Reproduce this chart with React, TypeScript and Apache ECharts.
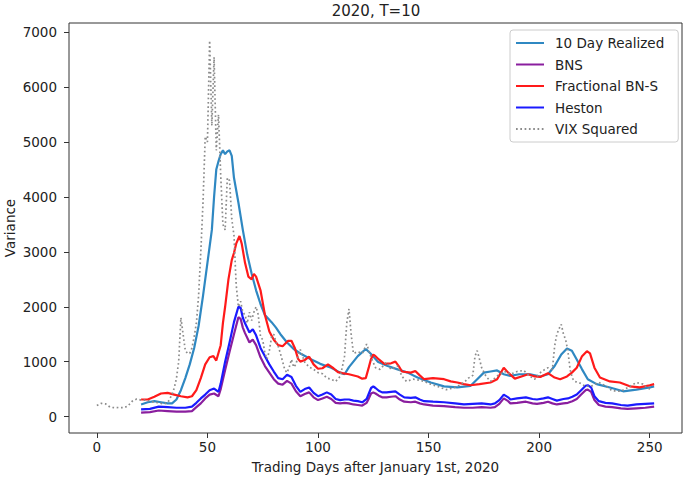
import React, { useEffect, useRef } from "react";
import * as echarts from "echarts";

const xTicks = [0, 50, 100, 150, 200, 250];
const yTicks = [0, 1000, 2000, 3000, 4000, 5000, 6000, 7000];

const realizedDays = [20, 23, 26, 29, 32, 34, 36, 38, 40, 42, 44, 46, 48, 50, 52, 53, 54, 55, 56, 57, 58, 59, 60, 61, 62, 64, 66, 68, 70, 72, 74, 76, 79, 81, 83, 86, 89, 92, 97, 101, 106, 110, 112, 114, 118, 121.6, 124, 127, 131.5, 136, 140.5, 145, 151, 157, 163, 169, 172, 175, 178, 181, 184, 187, 191, 196, 200.5, 204, 207, 210, 212.6, 214.8, 217, 219.4, 222, 226, 232, 238, 244, 250, 252];
const realizedVals = [220, 260, 280, 260, 240, 240, 310, 480, 700, 950, 1250, 1650, 2200, 2800, 3400, 4000, 4500, 4650, 4780, 4850, 4780, 4830, 4850, 4750, 4350, 3900, 3400, 2950, 2600, 2300, 2050, 1850, 1720, 1620, 1500, 1350, 1230, 1150, 1040, 960, 890, 800, 770, 900, 1100, 1230, 1140, 1000, 920, 860, 800, 710, 620, 550, 530, 560, 680, 800, 820, 840, 770, 740, 770, 770, 730, 770, 920, 1130, 1240, 1200, 1040, 860, 680, 590, 530, 460, 490, 530, 550];

const bnsDays = [20, 24, 28, 32, 36, 40, 43, 45, 47, 49, 51, 53, 55, 56, 58, 60, 62, 64, 65, 66, 67, 69, 70.5, 72, 74, 76, 78, 80, 82, 84, 86, 88, 90, 92, 94, 96, 98, 100, 102, 104, 106, 108, 110, 112, 114, 116, 118, 120, 122, 123, 124, 125, 126, 127.5, 129, 131, 133, 135, 137, 139, 142, 144, 146, 148, 152, 157, 162, 166, 170, 174, 178, 180, 182, 184, 186, 187, 190, 194, 197, 199, 202, 204, 206, 208, 211, 213, 215, 217, 219, 221, 222, 223.5, 225, 227, 230, 233, 237, 240, 244, 248, 252];
const bnsVals = [70, 80, 110, 100, 90, 90, 100, 170, 240, 330, 400, 420, 370, 500, 850, 1180, 1500, 1810, 1780, 1620, 1520, 1350, 1400, 1300, 1080, 920, 800, 680, 600, 580, 650, 600, 460, 370, 410, 440, 350, 300, 330, 360, 320, 250, 240, 250, 240, 220, 210, 200, 250, 330, 420, 440, 420, 380, 350, 350, 360, 370, 310, 270, 260, 270, 240, 220, 200, 190, 170, 160, 160, 170, 160, 170, 230, 330, 280, 240, 250, 270, 240, 230, 250, 270, 240, 220, 240, 250, 280, 320, 400, 480, 490, 450, 300, 210, 180, 170, 150, 140, 150, 160, 180];

const fracDays = [20, 23, 26, 29, 32, 35, 38, 41, 43, 45, 47, 49, 51, 52.7, 54, 56, 57, 58, 59.5, 61, 62, 63, 64.5, 65.5, 67, 68.5, 70, 71, 72, 74, 76, 78, 80, 82, 84, 86.5, 88, 89.5, 91, 92, 94, 96, 98, 100, 102, 104.5, 107, 109, 111, 114, 118, 120, 121.6, 123, 124, 125, 126, 127.5, 130, 133, 135, 136.5, 138, 142, 144, 146, 148, 152, 157, 160, 163, 166, 169, 173, 178, 181, 183, 184, 186, 189, 192, 195, 198, 200.5, 204, 207, 209.5, 212.6, 214.8, 217, 219.4, 221.6, 223, 225, 227.5, 232, 236.5, 241, 245.5, 250, 252];
const fracVals = [310, 310, 360, 420, 430, 400, 370, 350, 370, 480, 700, 950, 1080, 1100, 1020, 1300, 1700, 2000, 2500, 2850, 2980, 3150, 3290, 3150, 2800, 2550, 2500, 2600, 2550, 2300, 1850, 1550, 1400, 1300, 1280, 1380, 1380, 1250, 1050, 1000, 1030, 1090, 950, 870, 880, 950, 880, 810, 790, 770, 730, 690, 700, 900, 1050, 1130, 1100, 1040, 960, 970, 1000, 920, 820, 800, 830, 750, 680, 700, 680, 640, 620, 590, 570, 590, 620, 680, 820, 890, 800, 690, 730, 770, 730, 720, 790, 710, 680, 730, 800, 890, 1100, 1190, 1150, 890, 710, 640, 620, 550, 530, 570, 590];

const hestonDays = [20, 24, 28, 32, 36, 40, 43, 45, 47, 49, 51, 53, 55, 56, 58, 60, 62, 64, 65, 66, 67, 69, 70.5, 72, 74, 76, 78, 80, 82, 84, 86, 88, 90, 92, 94, 96, 98, 100, 102, 104, 106, 108, 110, 112, 114, 116, 118, 120, 122, 123, 124, 125, 126, 127.5, 129, 131, 133, 135, 137, 139, 142, 144, 146, 148, 152, 157, 162, 166, 170, 174, 178, 180, 182, 184, 186, 187, 190, 194, 197, 199, 202, 204, 206, 208, 211, 213, 215, 217, 219, 221, 222, 223.5, 225, 227, 230, 233, 237, 240, 244, 248, 252];
const hestonVals = [130, 140, 180, 170, 160, 160, 180, 250, 330, 400, 480, 510, 450, 600, 1000, 1350, 1720, 2000, 1980, 1800, 1700, 1530, 1590, 1480, 1250, 1100, 950, 820, 700, 680, 760, 720, 560, 450, 500, 530, 430, 370, 400, 440, 400, 320, 300, 310, 310, 290, 280, 260, 320, 420, 520, 550, 520, 470, 440, 440, 450, 460, 400, 350, 340, 350, 310, 280, 270, 260, 240, 220, 230, 240, 220, 240, 300, 400, 350, 310, 330, 350, 320, 310, 330, 350, 320, 290, 320, 330, 360, 400, 480, 560, 570, 530, 370, 280, 250, 240, 210, 200, 220, 230, 240];

const vixDays = [0, 2, 4, 6, 8, 10, 12, 14, 16, 18, 20, 22, 24, 26, 28, 30, 32, 34, 35, 36, 37, 38, 39, 40, 41, 42, 43, 44, 45, 46, 47, 48, 49, 50, 51, 52, 53, 54, 55, 56, 57, 58, 59, 60, 61, 62, 63, 64, 65, 66, 67, 68, 69, 70, 71, 72, 73, 74, 75, 76, 77, 78, 79, 80, 81, 82, 83, 84, 85, 86, 87, 88, 89, 90, 91, 92, 93, 94, 96, 98, 100, 102, 104, 106, 108, 110, 111, 112, 113, 114, 115, 116, 118, 120, 122, 124, 126, 128, 131, 133, 136, 138, 140, 143, 146, 148, 151, 154, 158, 161, 163, 166, 168, 170, 171, 172, 173, 174, 176, 178, 180, 182, 185, 187, 190, 193, 196, 198, 201, 204, 206, 207, 208, 209, 210, 211, 212, 213, 214, 215, 216, 218, 221, 224, 227, 230, 233, 237, 241, 244, 247, 249, 251];
const vixVals = [200, 240, 230, 170, 160, 165, 160, 190, 280, 320, 300, 300, 280, 260, 250, 230, 250, 400, 520, 700, 1000, 1800, 1500, 1200, 1150, 1150, 1250, 1450, 1700, 2200, 3000, 3900, 5100, 5000, 6850, 5300, 6550, 4850, 5500, 4400, 3500, 3400, 4350, 4300, 3600, 3300, 2400, 2000, 2100, 1900, 1850, 1700, 1900, 1750, 1900, 2000, 1850, 1450, 1400, 1150, 1050, 1200, 1450, 1500, 1350, 1280, 1150, 1000, 850, 800, 900, 1040, 900, 950, 1100, 1220, 1100, 990, 900, 860, 800, 780, 700, 680, 640, 730, 900, 1100, 1700, 1960, 1500, 1150, 1180, 1150, 1320, 1080, 890, 860, 990, 860, 920, 730, 640, 680, 660, 640, 590, 550, 490, 520, 550, 620, 700, 750, 1100, 1200, 1050, 890, 730, 640, 700, 770, 820, 770, 820, 840, 730, 680, 820, 890, 860, 1280, 1500, 1600, 1680, 1500, 1400, 1190, 860, 700, 640, 620, 550, 560, 620, 560, 470, 460, 550, 620, 590, 520, 490];

const seriesNames = ["10 Day Realized", "BNS", "Fractional BN-S", "Heston", "VIX Squared"];
const seriesColors = ["#2f88c2", "#8a1e9e", "#ff1a1a", "#1a1aff", "#8c8c8c"];

const zip = (xs: number[], ys: number[]) => xs.map((x, i) => [x, ys[i]]);

const FONT = "DejaVu Sans";
const TXT = "#222";
const FS = 13.5;

export default function App() {
  const ref = useRef<HTMLDivElement>(null);
  useEffect(() => {
    if (!ref.current) return;
    const chart = echarts.init(ref.current, null, { renderer: "svg" });
    const datasets = [
      zip(realizedDays, realizedVals),
      zip(bnsDays, bnsVals),
      zip(fracDays, fracVals),
      zip(hestonDays, hestonVals),
      zip(vixDays, vixVals),
    ];
    chart.setOption({
      animation: false,
      backgroundColor: "#ffffff",
      textStyle: { fontFamily: FONT },
      graphic: [
        {
          type: "text",
          x: 376,
          y: 11,
          style: {
            text: "2020, T=10",
            fontFamily: FONT,
            fontSize: 15,
            fill: TXT,
            textAlign: "center",
            textVerticalAlign: "middle",
          },
        },
      ],
      grid: {
        left: 69,
        right: 3,
        top: 23,
        bottom: 44,
        show: true,
        borderColor: "#333",
        borderWidth: 1,
        backgroundColor: "transparent",
        containLabel: false,
        outerBoundsMode: "none",
      },
      legend: {
        orient: "vertical",
        left: 510,
        top: 30,
        padding: [6, 14, 6, 5],
        itemWidth: 28,
        itemHeight: 14,
        itemGap: 7.5,
        backgroundColor: "rgba(255,255,255,0.85)",
        borderColor: "#cccccc",
        borderWidth: 1,
        borderRadius: 3,
        itemStyle: { opacity: 0 },
        textStyle: { fontFamily: FONT, fontSize: FS, color: TXT, padding: [0, 0, 0, 6] },
        data: seriesNames,
      },
      xAxis: {
        type: "value",
        min: -12.6,
        max: 264.6,
        name: "Trading Days after January 1st, 2020",
        nameLocation: "middle",
        nameGap: 27,
        nameMoveOverlap: false,
        nameTextStyle: { fontFamily: FONT, fontSize: FS, color: TXT },
        axisLine: { show: false, onZero: false },
        axisTick: { show: true, length: 5, customValues: xTicks, lineStyle: { color: "#333" } },
        axisLabel: {
          customValues: xTicks,
          margin: 7,
          fontFamily: FONT,
          fontSize: FS,
          color: TXT,
          formatter: (v: number) => String(v),
        },
        splitLine: { show: false },
      },
      yAxis: {
        type: "value",
        min: -300,
        max: 7170,
        name: "Variance",
        nameLocation: "middle",
        nameGap: 52,
        nameMoveOverlap: false,
        nameTextStyle: { fontFamily: FONT, fontSize: FS, color: TXT },
        axisLine: { show: false, onZero: false },
        axisTick: { show: true, length: 5, customValues: yTicks, lineStyle: { color: "#333" } },
        axisLabel: {
          customValues: yTicks,
          margin: 12,
          fontFamily: FONT,
          fontSize: FS,
          color: TXT,
          formatter: (v: number) => String(v),
        },
        splitLine: { show: false },
      },
      series: seriesNames.map((name, i) => ({
        name,
        type: "line",
        data: datasets[i],
        symbol: "none",
        showSymbol: false,
        color: seriesColors[i],
        itemStyle: { color: seriesColors[i], opacity: 0 },
        lineStyle: {
          color: seriesColors[i],
          width: i === 4 ? 1.7 : 2.2,
          type: i === 4 ? [1.7, 2.6] : "solid",
          opacity: 1,
        },
        z: 2 + i,
      })),
    });
    return () => chart.dispose();
  }, []);
  return (
    <div
      ref={ref}
      style={{ position: "absolute", left: 0, top: 0, width: 685, height: 477 }}
    />
  );
}
